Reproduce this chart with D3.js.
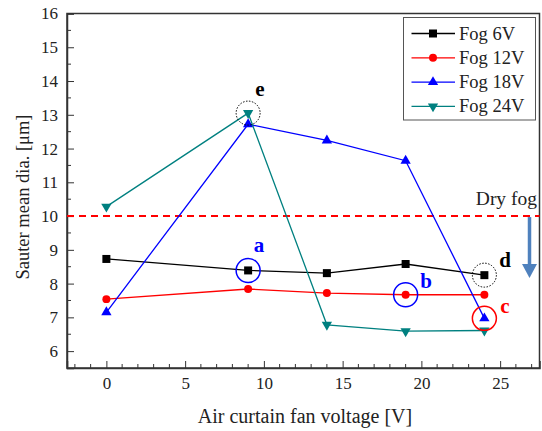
<!DOCTYPE html>
<html><head><meta charset="utf-8">
<script src="https://cdn.jsdelivr.net/npm/d3@7/dist/d3.min.js"></script>
<style>body{margin:0;background:#fff}svg{display:block}text{font-family:"Liberation Serif","Times New Roman",serif}</style>
</head><body><svg id="c" width="542" height="431"></svg>
<script>
const voltages = [0, 9, 14, 19, 24];
const fog6 = [8.73, 8.39, 8.31, 8.58, 8.25];
const fog12 = [7.54, 7.84, 7.72, 7.67, 7.67];
const fog18 = [7.15, 12.72, 12.24, 11.64, 6.97];
const fog24 = [10.28, 13.05, 6.78, 6.59, 6.61];
const seriesNames = ["Fog 6V", "Fog 12V", "Fog 18V", "Fog 24V"];
const xTicks = [0, 5, 10, 15, 20, 25];
const yTicks = [6, 7, 8, 9, 10, 11, 12, 13, 14, 15, 16];
const dryFog = 10;

const svg = d3.select("#c");
const L = 67, R = 539.5, T = 13.5, B = 368;
const x = d3.scaleLinear().domain([-2.5, 27.5]).range([L, R]);
const y = d3.scaleLinear().domain([5.5, 16]).range([B, T]);

const series = [
  {name: seriesNames[0], vals: fog6, color: "#000000", sym: d3.symbolSquare, size: 64, rot: 0},
  {name: seriesNames[1], vals: fog12, color: "#ff0000", sym: d3.symbolCircle, size: 50, rot: 0},
  {name: seriesNames[2], vals: fog18, color: "#0000ff", sym: d3.symbolTriangle, size: 46, rot: 0},
  {name: seriesNames[3], vals: fog24, color: "#008080", sym: d3.symbolTriangle, size: 46, rot: 180}
];

// frame
svg.append("rect").attr("x", L).attr("y", T).attr("width", R - L).attr("height", B - T)
  .attr("fill", "none").attr("stroke", "#333").attr("stroke-width", 1.5);

// axes
const xAxis = d3.axisBottom(x).tickValues(xTicks).tickSize(-7).tickPadding(9).tickFormat(d3.format("d"));
const gx = svg.append("g").attr("transform", `translate(0,${B})`).call(xAxis);
const xMinor = d3.range(-2, 28, 1).filter(v => v % 5 !== 0);
gx.selectAll(".minor").data(xMinor).enter().append("line").attr("class", "minor")
  .attr("x1", d => x(d)).attr("x2", d => x(d)).attr("y1", 0).attr("y2", -4).attr("stroke", "#333");

const yAxis = d3.axisLeft(y).tickValues(yTicks).tickSize(-7).tickPadding(9).tickFormat(d3.format("d"));
const gy = svg.append("g").attr("transform", `translate(${L},0)`).call(yAxis);
const yMinor = d3.range(6.5, 16, 1);
gy.selectAll(".minor").data(yMinor).enter().append("line").attr("class", "minor")
  .attr("y1", d => y(d)).attr("y2", d => y(d)).attr("x1", 0).attr("x2", 4).attr("stroke", "#333");

[gx, gy].forEach(g => {
  g.select(".domain").attr("stroke", "#333").attr("stroke-width", 1.5);
  g.selectAll(".tick line").attr("stroke", "#333");
  g.selectAll("text").attr("font-size", 17).attr("fill", "#222")
    .style("font-family", '"Liberation Serif", serif');
});

svg.append("text").attr("x", 305).attr("y", 423).attr("text-anchor", "middle")
  .attr("font-size", 20).attr("fill", "#222").text("Air curtain fan voltage [V]");
svg.append("text").attr("transform", `translate(29,197) rotate(-90)`).attr("text-anchor", "middle")
  .attr("font-size", 18.5).attr("fill", "#222").text("Sauter mean dia. [μm]");

// dry fog line
svg.append("line").attr("x1", L).attr("x2", R).attr("y1", y(dryFog)).attr("y2", y(dryFog))
  .attr("stroke", "#ff0000").attr("stroke-width", 2).attr("stroke-dasharray", "7,5");
svg.append("text").attr("x", 537).attr("y", 205).attr("text-anchor", "end").attr("font-size", 19.5)
  .attr("fill", "#222").text("Dry fog");
// arrow
svg.append("line").attr("x1", 529.5).attr("x2", 529.5).attr("y1", y(dryFog) + 1).attr("y2", 268)
  .attr("stroke", "#4f81bd").attr("stroke-width", 3.5);
svg.append("path").attr("d", "M522,264 L537,264 L529.5,278 Z").attr("fill", "#4f81bd");

// series
const line = d3.line().x((d, i) => x(voltages[i])).y(d => y(d));
series.forEach(s => {
  svg.append("path").datum(s.vals).attr("d", line).attr("fill", "none")
    .attr("stroke", s.color).attr("stroke-width", 1.3);
  svg.selectAll(null).data(s.vals).enter().append("path")
    .attr("d", d3.symbol().type(s.sym).size(s.size))
    .attr("transform", (d, i) => `translate(${x(voltages[i])},${y(d)}) rotate(${s.rot})`)
    .attr("fill", s.color);
});

// annotations
const ann = [
  {xi: 1, v: fog6[1], r: 12, color: "#0000ff", dash: null, label: "a", lx: 259, ly: 252},
  {xi: 3, v: fog12[3], r: 12, color: "#0000ff", dash: null, label: "b", lx: 426, ly: 288},
  {xi: 4, v: fog18[4], r: 12, color: "#ff0000", dash: null, label: "c", lx: 505, ly: 313},
  {xi: 4, v: fog6[4], r: 12, color: "#000000", dash: "1.5,1.5", label: "d", lx: 505, ly: 267},
  {xi: 1, v: fog24[1], r: 12, color: "#000000", dash: "1.5,1.5", label: "e", lx: 260, ly: 96}
];
ann.forEach(a => {
  svg.append("circle").attr("cx", x(voltages[a.xi])).attr("cy", y(a.v)).attr("r", a.r)
    .attr("fill", "none").attr("stroke", a.color).attr("stroke-width", a.dash ? 1 : 1.5)
    .attr("stroke-dasharray", a.dash);
  svg.append("text").attr("x", a.lx).attr("y", a.ly).attr("text-anchor", "middle")
    .attr("font-size", 21).attr("font-weight", "bold").attr("fill", a.color).text(a.label);
});

// legend
const lg = svg.append("g");
lg.append("rect").attr("x", 403.5).attr("y", 17.5).attr("width", 132).attr("height", 102.5)
  .attr("fill", "#fff").attr("stroke", "#555").attr("stroke-width", 1);
series.forEach((s, i) => {
  const yy = 33.5 + i * 24.3;
  lg.append("line").attr("x1", 411.5).attr("x2", 455).attr("y1", yy).attr("y2", yy)
    .attr("stroke", s.color).attr("stroke-width", 1.3);
  lg.append("path").attr("d", d3.symbol().type(s.sym).size(s.size))
    .attr("transform", `translate(433,${yy}) rotate(${s.rot})`).attr("fill", s.color);
  lg.append("text").attr("x", 459).attr("y", yy + 6).attr("font-size", 18.5).attr("fill", "#222").text(s.name);
});
</script></body></html>
